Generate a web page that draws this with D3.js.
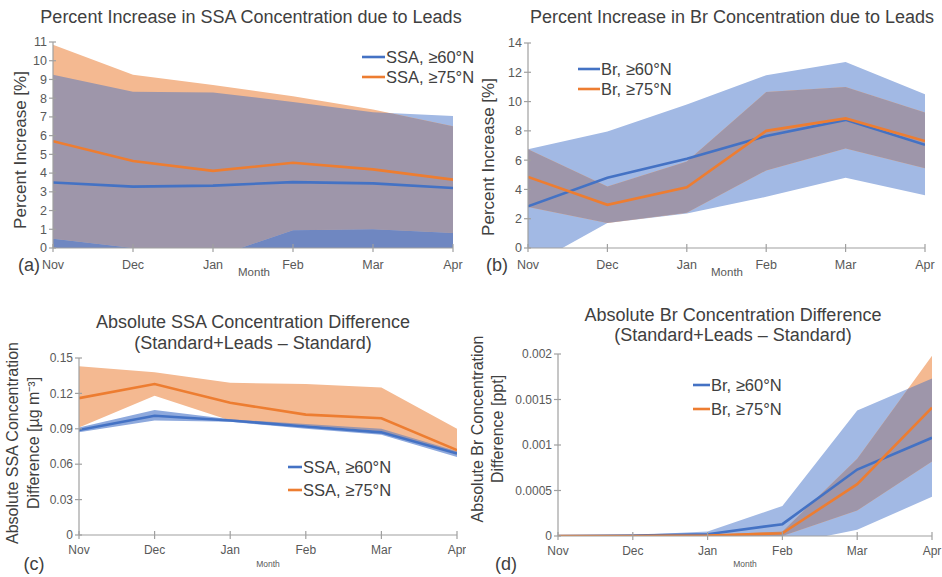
<!DOCTYPE html>
<html>
<head>
<meta charset="utf-8">
<script src="https://cdn.jsdelivr.net/npm/d3@7"></script>
<style>
  body { margin: 0; background: #fff; }
  svg { display: block; font-family: "Liberation Sans", Arial, sans-serif; }
</style>
</head>
<body>
<svg id="chart" width="942" height="577"></svg>
<script>
const months = ["Nov", "Dec", "Jan", "Feb", "Mar", "Apr"];

// (a) percent increase in SSA
const ssaPct60 = [3.5, 3.28, 3.33, 3.52, 3.45, 3.2];
const ssaPct60Lo = [-1, -1.5, -1.5, -1, -1, -1];
const ssaPct60Hi = [9.25, 8.35, 8.3, 7.8, 7.25, 7.05];
const ssaPct75 = [5.7, 4.65, 4.12, 4.55, 4.2, 3.65];
const ssaPct75Lo = [0.5, 0.0, -0.5, 0.95, 1.0, 0.8];
const ssaPct75Hi = [10.85, 9.25, 8.7, 8.1, 7.4, 6.5];

// (b) percent increase in Br
const brPct60 = [2.85, 4.8, 6.1, 7.65, 8.75, 7.05];
const brPct60Lo = [-1.3, 1.7, 2.35, 3.5, 4.8, 3.6];
const brPct60Hi = [6.75, 7.95, 9.8, 11.8, 12.7, 10.5];
const brPct75 = [4.85, 2.95, 4.15, 8.0, 8.85, 7.3];
const brPct75Lo = [2.8, 1.7, 2.4, 5.3, 6.8, 5.45];
const brPct75Hi = [6.75, 4.2, 5.9, 10.65, 11.0, 9.25];

// (c) absolute SSA difference [ug m-3]
const ssaAbs60 = [0.089, 0.101, 0.097, 0.092, 0.087, 0.069];
const ssaAbs60Lo = [0.087, 0.097, 0.096, 0.090, 0.085, 0.066];
const ssaAbs60Hi = [0.091, 0.106, 0.098, 0.094, 0.090, 0.071];
const ssaAbs75 = [0.116, 0.128, 0.112, 0.102, 0.099, 0.072];
const ssaAbs75Lo = [0.091, 0.118, 0.097, 0.093, 0.088, 0.068];
const ssaAbs75Hi = [0.143, 0.138, 0.129, 0.128, 0.125, 0.090];

// (d) absolute Br difference [ppt]
const brAbs60 = [0, 0.000005, 0.00002, 0.00013, 0.00073, 0.00108];
const brAbs60Lo = [0, 0, 0, -0.0001, 0.00007, 0.00043];
const brAbs60Hi = [0, 0.00001, 0.00005, 0.00033, 0.00138, 0.00173];
const brAbs75 = [0, 0, 0.000005, 0.00003, 0.00057, 0.00141];
const brAbs75Lo = [0, 0, 0, 0, 0.00028, 0.00082];
const brAbs75Hi = [0, 0, 0.00001, 0.00005, 0.00085, 0.00198];

const ticksA = [0, 1, 2, 3, 4, 5, 6, 7, 8, 9, 10, 11];
const ticksB = [0, 2, 4, 6, 8, 10, 12, 14];
const ticksC = [0, 0.03, 0.06, 0.09, 0.12, 0.15];
const ticksD = [0, 0.0005, 0.001, 0.0015, 0.002];

const blue = "#4472C4", orange = "#ED7D31";
const blueBand = "#A2B9E4", orangeBand = "#F4B991", overlap = "#9E96AA";
const textCol = "#404040", tickCol = "#595959", axisCol = "#A0A0A0";

const svg = d3.select("#chart");

const panels = [
  {
    id: "a", x: [53, 453], y: [248, 42], domain: [0, 11], ticks: ticksA, fmt: d => d,
    s1: [ssaPct60, ssaPct60Lo, ssaPct60Hi], s2: [ssaPct75, ssaPct75Lo, ssaPct75Hi],
    names: ["SSA, ≥60°N", "SSA, ≥75°N"], lowShade: "#6F87C1", bandBlue: blueBand,
    title: ["Percent Increase in SSA Concentration due to Leads"], titleX: 251, titleY: [23],
    ylab: ["Percent Increase [%]"], ylabX: [20], ylabY: 150, ylabSize: 17,
    leg: [362, 385, 57, 77], letter: [29, 265], month: [254, 272, 11.5], tickSize: 12.5, xTickY: 265, clipR: 942
  },
  {
    id: "b", x: [528, 925], y: [248, 43], domain: [0, 14], ticks: ticksB, fmt: d => d,
    s1: [brPct60, brPct60Lo, brPct60Hi], s2: [brPct75, brPct75Lo, brPct75Hi],
    names: ["Br, ≥60°N", "Br, ≥75°N"], bandBlue: blueBand,
    title: ["Percent Increase in Br Concentration due to Leads"], titleX: 732, titleY: [23],
    ylab: ["Percent Increase [%]"], ylabX: [488], ylabY: 157, ylabSize: 17,
    leg: [578, 600, 69, 89], letter: [497, 265], month: [727, 272, 11.5], tickSize: 12.5, xTickY: 265, clipR: 942
  },
  {
    id: "c", x: [79, 457], y: [535, 358], domain: [0, 0.15], ticks: ticksC,
    fmt: d => d === 0 ? "0" : d3.format(".2f")(d),
    s1: [ssaAbs60, ssaAbs60Lo, ssaAbs60Hi], s2: [ssaAbs75, ssaAbs75Lo, ssaAbs75Hi],
    names: ["SSA, ≥60°N", "SSA, ≥75°N"], bandBlue: "#8EA9DD",
    title: ["Absolute SSA Concentration Difference", "(Standard+Leads \u2013 Standard)"], titleX: 253, titleY: [328, 349],
    ylab: ["Absolute SSA Concentration", "Difference [µg m\u207B\u00B3]"], ylabX: [12, 33], ylabY: 443, ylabSize: 16,
    leg: [288, 302, 467, 490], letter: [34, 564], month: [268, 564, 8.5], tickSize: 12, xTickY: 550, clipR: 466
  },
  {
    id: "d", x: [558, 932], y: [536, 354], domain: [0, 0.002], ticks: ticksD,
    fmt: d => d === 0 ? "0" : String(+d.toFixed(4)),
    s1: [brAbs60, brAbs60Lo, brAbs60Hi], s2: [brAbs75, brAbs75Lo, brAbs75Hi],
    names: ["Br, ≥60°N", "Br, ≥75°N"], bandBlue: blueBand,
    title: ["Absolute Br Concentration Difference", "(Standard+Leads \u2013 Standard)"], titleX: 733, titleY: [321, 341],
    ylab: ["Absolute Br Concentration", "Difference [ppt]"], ylabX: [477, 497], ylabY: 429, ylabSize: 16,
    leg: [693, 710, 385, 409], letter: [506, 564], month: [745, 564, 8.5], tickSize: 12, xTickY: 551, clipR: 942
  }
];

const defs = svg.append("defs");

panels.forEach(p => {
  const x = d3.scalePoint().domain(months).range(p.x);
  const y = d3.scaleLinear().domain(p.domain).range(p.y);
  const band = (lo, hi) => d3.area().x((d, i) => x(months[i])).y0((d, i) => y(lo[i])).y1((d, i) => y(hi[i]))(months);
  const line = s => d3.line().x((d, i) => x(months[i])).y((d, i) => y(s[i]))(months);

  const outer = svg.append("g").attr("clip-path", `url(#edge-${p.id})`);
  defs.append("clipPath").attr("id", `edge-${p.id}`)
    .append("rect").attr("x", 0).attr("y", 0).attr("width", p.clipR).attr("height", 577);

  defs.append("clipPath").attr("id", `plot-${p.id}`)
    .append("rect").attr("x", p.x[0]).attr("y", p.y[1] - 10)
    .attr("width", p.x[1] - p.x[0]).attr("height", p.y[0] - p.y[1] + 10);
  defs.append("clipPath").attr("id", `blue-${p.id}`)
    .append("path").attr("d", band(p.s1[1], p.s1[2]));

  const plot = outer.append("g").attr("clip-path", `url(#plot-${p.id})`);
  plot.append("path").attr("d", band(p.s1[1], p.s1[2])).attr("fill", p.bandBlue);
  plot.append("path").attr("d", band(p.s2[1], p.s2[2])).attr("fill", orangeBand);
  const inBlue = plot.append("g").attr("clip-path", `url(#blue-${p.id})`);
  inBlue.append("path").attr("d", band(p.s2[1], p.s2[2])).attr("fill", overlap);
  if (p.lowShade) {
    inBlue.append("path").attr("d", band(p.s1[1], p.s2[1])).attr("fill", p.lowShade);
  }

  // axes
  const ax = outer.append("g").attr("stroke", axisCol).attr("stroke-width", 1.2);
  ax.append("line").attr("x1", p.x[0]).attr("x2", p.x[1]).attr("y1", p.y[0]).attr("y2", p.y[0]);
  ax.append("line").attr("x1", p.x[0]).attr("x2", p.x[0]).attr("y1", p.y[0]).attr("y2", p.y[1]);
  ax.selectAll(".xt").data(months).join("line")
    .attr("x1", d => x(d)).attr("x2", d => x(d)).attr("y1", p.y[0] - 4).attr("y2", p.y[0] + 4);
  ax.selectAll(".yt").data(p.ticks).join("line")
    .attr("x1", p.x[0] - 4).attr("x2", p.x[0] + 3).attr("y1", d => y(d)).attr("y2", d => y(d));

  outer.append("g").selectAll("text").data(p.ticks).join("text")
    .attr("x", p.x[0] - 6).attr("y", d => y(d)).attr("dy", "0.35em")
    .attr("text-anchor", "end").attr("fill", tickCol).attr("font-size", p.tickSize)
    .text(p.fmt);
  outer.append("g").selectAll("text").data(months).join("text")
    .attr("x", d => x(d)).attr("y", p.xTickY).attr("dy", "0.35em")
    .attr("text-anchor", "middle").attr("fill", tickCol).attr("font-size", p.tickSize)
    .text(d => d);

  // series lines
  plot.append("path").attr("d", line(p.s1[0])).attr("fill", "none").attr("stroke", blue).attr("stroke-width", 2.6);
  plot.append("path").attr("d", line(p.s2[0])).attr("fill", "none").attr("stroke", orange).attr("stroke-width", 2.6);

  // titles and labels
  p.title.forEach((t, i) => outer.append("text")
    .attr("x", p.titleX).attr("y", p.titleY[i]).attr("text-anchor", "middle")
    .attr("fill", textCol).attr("font-size", 18).text(t));
  p.ylab.forEach((t, i) => outer.append("text")
    .attr("transform", `translate(${p.ylabX[i]},${p.ylabY}) rotate(-90)`)
    .attr("dy", "0.35em").attr("text-anchor", "middle")
    .attr("fill", textCol).attr("font-size", p.ylabSize).text(t));
  outer.append("text").attr("x", p.letter[0]).attr("y", p.letter[1]).attr("dy", "0.35em")
    .attr("text-anchor", "middle").attr("fill", textCol).attr("font-size", 18).text(`(${p.id})`);
  outer.append("text").attr("x", p.month[0]).attr("y", p.month[1]).attr("dy", "0.35em")
    .attr("text-anchor", "middle").attr("fill", tickCol).attr("font-size", p.month[2]).text("Month");

  // legend
  [blue, orange].forEach((c, i) => {
    const ly = p.leg[2 + i];
    outer.append("line").attr("x1", p.leg[0]).attr("x2", p.leg[1]).attr("y1", ly).attr("y2", ly)
      .attr("stroke", c).attr("stroke-width", 2.6);
    outer.append("text").attr("x", p.leg[1] + 1).attr("y", ly).attr("dy", "0.35em")
      .attr("fill", textCol).attr("font-size", 16.5).text(p.names[i]);
  });
});
</script>
</body>
</html>
